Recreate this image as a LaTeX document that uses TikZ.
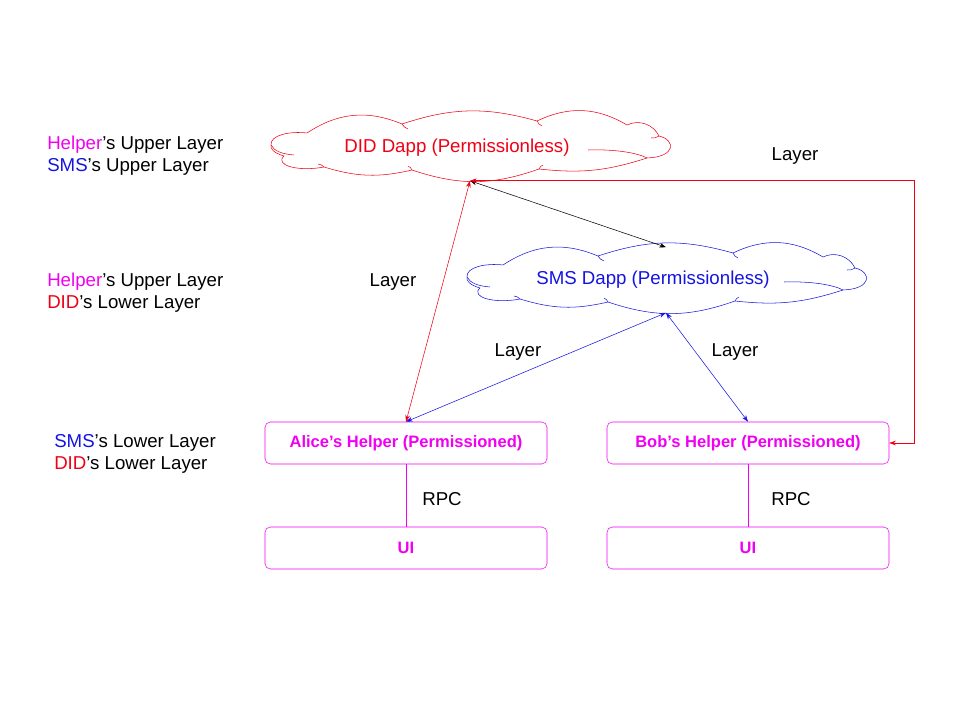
\documentclass[tikz,border=0pt]{standalone}
\usepackage{fontspec}
\setmainfont{Liberation Sans}
\usetikzlibrary{arrows.meta}
\usepackage{xcolor}
\definecolor{didred}{RGB}{240,0,20}
\definecolor{smsblue}{RGB}{20,20,225}
\definecolor{helpmag}{RGB}{240,0,240}
% cloud outline round a dapp node: #1 node, #2 colour
\newcommand{\dappcloud}[2]{%
  \draw [#2,shift={(#1.center)}] (-199,-3) .. controls (-200,-13) and (-180,-17) .. (-163,-15)
    to[bend left=28] (-68,-24) to[bend left=17] (67,-27) to[bend left=28] (157,-23)
    to[bend left=45] (189,-12) .. controls (206,-8) and (206,9) .. (177,10)
    to[bend left=12] (69,21) to[bend left=19] (-58,22) to[bend left=15] (-146,19)
    .. controls (-172,24) and (-196,17) .. (-186,8) .. controls (-196,5) and (-200,1) .. (-199,-3);
  \draw [#2,shift={(#1.center)}] (-199,-3) .. controls (-196,3) and (-188,6) .. (-176,7)
    (-68,-24) to[bend right=20] (-62,-19) (67,-27) to[bend right=20] (72,-22)
    (189,-12) to[bend left=20] (181,-10) (177,10) .. controls (168,5) and (145,1) .. (118,2)
    (69,21) to[bend left=20] (73,17) (-58,22) to[bend right=20] (-62,18)
    (-146,19) to[bend right=20] (-152,16);}

\begin{document}
\begin{tikzpicture}[x=0.75pt,y=-0.75pt,
    font=\fontsize{14pt}{16.5pt}\selectfont,
    dapp/.style={minimum width=297pt,minimum height=48.75pt,inner sep=0pt},
    helperbox/.style={draw=helpmag,rounded corners=4pt,text=helpmag,
      minimum width=211.5pt,minimum height=31.5pt,
      font=\fontsize{12.4pt}{14pt}\selectfont\bfseries},
    both/.style={{Stealth[length=5pt,width=3.5pt]}-{Stealth[length=5pt,width=3.5pt]}},
    side/.style={anchor=west,align=left,inner sep=0pt}]
    \useasboundingbox (0,0) rectangle (960,720);
    % the two dapps
    \node [dapp,text=didred] (did) at (470,148) {DID Dapp (Permissionless)\hspace*{19.5pt}};
    \node [dapp,text=smsblue] (sms) at (666,280) {SMS Dapp (Permissionless)\hspace*{19.5pt}};
    \dappcloud{did}{didred}
    \dappcloud{sms}{smsblue}
    % helpers and their UIs
    \node [helperbox] (alice) at (406,443) {Alice’s Helper (Permissioned)};
    \node [helperbox] (bob) at (748,443) {Bob’s Helper (Permissioned)};
    \node [helperbox] (aliceui) at (406,548) {UI};
    \node [helperbox] (bobui) at (748,548) {UI};
    \coordinate (didp) at (did.south);
    \coordinate (turn) at (914,0);
    \draw [both,didred] (didp)--(alice.north);
    \draw [both] (didp)--(sms.north);
    \draw [both,smsblue] (sms.south)--(alice.north);
    \draw [both,smsblue] (sms.south)--(bob.north);
    \draw [both,didred] (didp)--(didp-|turn)|-(bob.east);
    \draw [helpmag] (alice)--(aliceui);
    \draw [helpmag] (bob)--(bobui);
    % labels
    \node (l1) at (393,282) {Layer};
    \node (l2) at (518,352) {Layer};
    \node (l3) at (735,352) {Layer};
    \node (l4) at (795,156) {Layer};
    \node (r1) at (442,499) {RPC};
    \node (r2) at (791,499) {RPC};
    \node [side] (top) at (47,156) {\textcolor{helpmag}{Helper}’s Upper Layer\\\textcolor{smsblue}{SMS}’s Upper Layer};
    \node [side] (mid) at (47,293) {\textcolor{helpmag}{Helper}’s Upper Layer\\\textcolor{didred}{DID}’s Lower Layer};
    \node [side] (low) at (54,454) {\textcolor{smsblue}{SMS}’s Lower Layer\\\textcolor{didred}{DID}’s Lower Layer};
  \end{tikzpicture}
\end{document}
